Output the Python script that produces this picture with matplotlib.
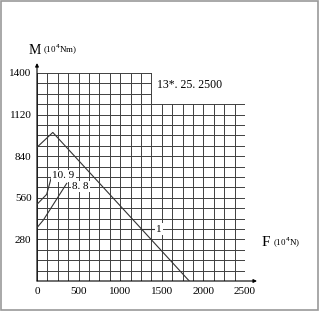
import matplotlib
matplotlib.use("Agg")
import matplotlib.pyplot as plt
from matplotlib.patches import Rectangle
import numpy as np

# force axis: F (10^4 N), moment: M (10^4 Nm)
curve1_F = [0, 190, 1830]
curve1_M = [900, 1000, 0]
curve109_F = [0, 116, 177]
curve109_M = [516, 583, 707]
curve88_F = [0, 76, 357]
curve88_M = [359, 410, 657]
lead1_F = [1256, 1420]
lead1_M = [350, 350]

x_ticks = [0, 500, 1000, 1500, 2000, 2500]
y_ticks = [280, 560, 840, 1120, 1400]
grid_dx = 125
grid_dy = 70

W, H = 320, 311
fig = plt.figure(figsize=(W / 100, H / 100), dpi=100)
plt.rcParams["font.family"] = ["Liberation Serif", "DejaVu Serif"]

# axes box placed so that data 0..2500 x 0..1400 sits on the grid area
x0, x1 = 37, 245
y0, y1 = 281, 73
ax = fig.add_axes([x0 / W, (H - y0) / H, (x1 - x0) / W, (y0 - y1) / H])
ax.set_xlim(0, 2500)
ax.set_ylim(0, 1400)
for s in ax.spines.values():
    s.set_visible(False)

# stepped grid: tall part up to 1375, wide part up to 1190
gcol = "#404040"
for gx in np.arange(0, 2501, grid_dx):
    top = 1400 if gx <= 1375 else 1190
    ax.plot([gx, gx], [0, top], color=gcol, lw=0.7, zorder=1)
for gy in np.arange(0, 1401, grid_dy):
    right = 2500 if gy <= 1190 else 1375
    ax.plot([0, right], [gy, gy], color=gcol, lw=0.7, zorder=1)

# axis arrows
ax.annotate("", xy=(2644, 0), xytext=(0, 0),
            arrowprops=dict(arrowstyle="-|>", color="black", lw=0.8,
                            mutation_scale=5, shrinkA=0, shrinkB=0),
            annotation_clip=False)
ax.annotate("", xy=(0, 1467), xytext=(0, 0),
            arrowprops=dict(arrowstyle="-|>", color="black", lw=0.8,
                            mutation_scale=5, shrinkA=0, shrinkB=0),
            annotation_clip=False)

# curves
ax.plot(curve1_F, curve1_M, color="#333333", lw=0.8, zorder=3)
ax.plot(curve109_F, curve109_M, color="#333333", lw=0.8, zorder=3)
ax.plot(curve88_F, curve88_M, color="#333333", lw=0.8, zorder=3)
ax.plot(lead1_F, lead1_M, color="#333333", lw=0.8, zorder=3)

box = dict(facecolor="white", edgecolor="none", pad=1)
ax.text(185, 707, "10. 9", fontsize=8, ha="left", va="center", bbox=box, zorder=4)
ax.text(420, 635, "8. 8", fontsize=8, ha="left", va="center", bbox=box, zorder=4)
ax.text(1430, 350, "1", fontsize=8, ha="left", va="center", bbox=box, zorder=4)
ax.text(1440, 1319, "13*. 25. 2500", fontsize=8.5, ha="left", va="center")

# ticks
ax.set_xticks(x_ticks)
ax.set_xticklabels([str(v) for v in x_ticks])
ax.set_yticks(y_ticks)
ax.set_yticklabels([str(v) for v in y_ticks])
ax.tick_params(length=0, labelsize=8, pad=4)

# axis titles
fig.text(35 / W, 1 - 50 / H, "M", fontsize=10, ha="center", va="center")
fig.text(43 / W, 1 - 50 / H, r"(10$^4$Nm)", fontsize=6.5, ha="left", va="center")
fig.text(266 / W, 1 - 243 / H, "F", fontsize=11, ha="center", va="center")
fig.text(273 / W, 1 - 243 / H, r"(10$^4$N)", fontsize=6.5, ha="left", va="center")

# thin gray frame round the picture
fig.patches.append(Rectangle((0.5 / W, 1.5 / H), 317.5 / W, 308.5 / H,
                             transform=fig.transFigure, fill=False,
                             edgecolor="#999999", lw=1.2))

fig.savefig("out.png", dpi=100)
